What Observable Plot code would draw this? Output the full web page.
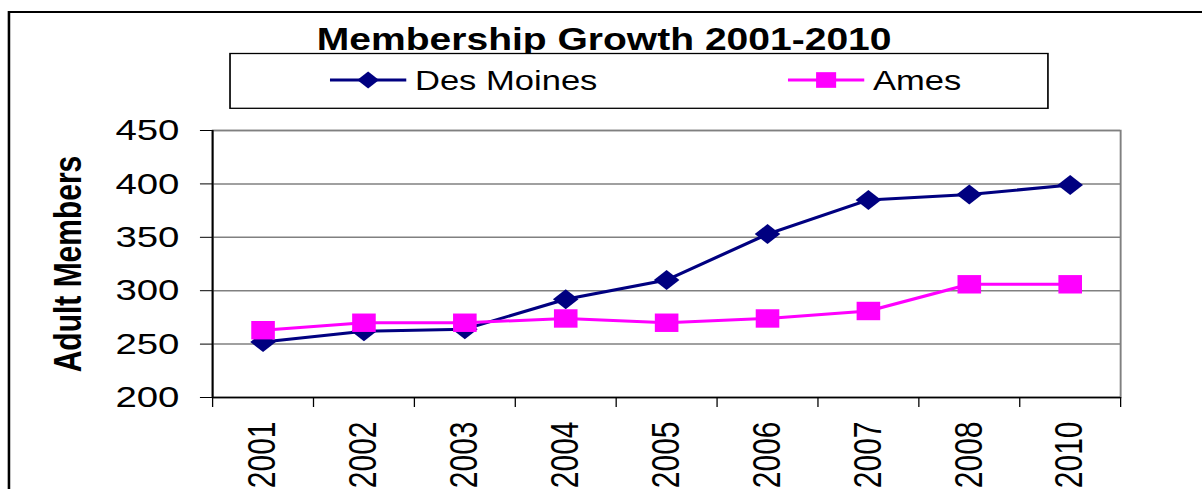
<!DOCTYPE html>
<html><head><meta charset="utf-8">
<script src="https://cdn.jsdelivr.net/npm/d3@7"></script>
<script src="https://cdn.jsdelivr.net/npm/@observablehq/plot@0.6"></script>
<style>
html,body{margin:0;padding:0;background:#fff;overflow:hidden;}
#stage{position:relative;width:939px;height:489px;transform:scaleX(1.28);transform-origin:0 0;font-family:"Liberation Sans",Arial,sans-serif;}
#frame{position:absolute;left:6.3px;top:10.5px;width:1000px;height:600px;border:2.5px solid #000;box-sizing:border-box;}
#header{position:absolute;left:0;top:0;overflow:visible;}
#chart{position:absolute;left:0;top:115px;}
</style></head><body>
<div id="stage"><div id="frame"></div><div id="chart"></div><svg id="header" width="939" height="115"></svg></div>
<script>
const title = "Membership Growth 2001-2010";
const yLabel = "Adult Members";
const years = ["2001","2002","2003","2004","2005","2006","2007","2008","2010"];
const seriesNames = ["Des Moines","Ames"];
const desMoines = [252,262,264,292,310,353,385,390,399];
const ames = [263,270,270,274,270,274,281,306,306];
const yTicks = [200,250,300,350,400,450];
const colors = ["#000080","#FF00FF"];
const symbols = ["diamond2","square"];
const markerR = [9, 10.4];

const seriesValues = [desMoines, ames];
const rows = seriesNames.map((s, k) => years.map((yr, i) => ({series: s, year: yr, pos: i + 0.5, value: seriesValues[k][i]})));
const bounds = d3.range(years.length + 1);
const font = '"Liberation Sans", Arial, sans-serif';

const chart = Plot.plot({
  width: 939, height: 405,
  marginTop: 15, marginBottom: 123, marginLeft: 165.6, marginRight: 64,
  style: {fontFamily: font, background: "transparent", overflow: "visible", color: "#000"},
  x: {type: "linear", domain: [0, years.length], axis: null},
  y: {type: "linear", domain: [yTicks[0], yTicks[yTicks.length - 1]], axis: null},
  marks: [
    Plot.gridY(yTicks, {stroke: "#808080", strokeOpacity: 1, strokeWidth: 1.5}),
    Plot.frame({stroke: "#808080", strokeWidth: 1.5}),
    Plot.ruleX([0], {stroke: "#000", strokeWidth: 1.5}),
    Plot.ruleY([yTicks[0]], {stroke: "#000", strokeWidth: 1.5}),
    Plot.axisY(yTicks, {tickSize: 9.4, tickPadding: 16.5, fontSize: 30, stroke: "#000", fill: "#000", label: null}),
    Plot.axisX(bounds, {tickSize: 10, tickFormat: () => "", stroke: "#000", label: null}),
    Plot.text(years, {x: (d, i) => i + 0.5, frameAnchor: "bottom", rotate: -90, textAnchor: "end", lineAnchor: "middle", dy: 24, fontSize: 30, fill: "#000"}),
    Plot.text([yLabel], {frameAnchor: "left", rotate: -90, textAnchor: "middle", lineAnchor: "middle", dx: -112.6, fontSize: 30, fontWeight: "bold", fill: "#000"}),
    ...seriesNames.flatMap((s, k) => [
      Plot.line(rows[k], {x: "pos", y: "value", stroke: colors[k], strokeWidth: 3}),
      Plot.dot(rows[k], {x: "pos", y: "value", symbol: symbols[k], fill: colors[k], stroke: "none", r: markerR[k]})
    ])
  ]
});
document.getElementById("chart").appendChild(chart);

// title and legend
const hdr = d3.select("#header").style("font-family", font);
hdr.append("text").attr("x", 472).attr("y", 50).attr("text-anchor", "middle")
  .attr("font-size", 30.5).attr("font-weight", "bold").attr("fill", "#000").text(title);
hdr.append("rect").attr("x", 179.7).attr("y", 53.5).attr("width", 639).attr("height", 54.8)
  .attr("fill", "#fff").attr("stroke", "#000").attr("stroke-width", 1.3);
const legendX = [257.8, 615.6];
const symTypes = [d3.symbolDiamond2, d3.symbolSquare];
seriesNames.forEach((s, k) => {
  const g = hdr.append("g").attr("transform", `translate(${legendX[k]},80)`);
  g.append("line").attr("x1", 0).attr("x2", 59.6).attr("y1", 0).attr("y2", 0)
    .attr("stroke", colors[k]).attr("stroke-width", 3);
  const rr = markerR[k] * 0.85;
  g.append("path").attr("transform", "translate(29.8,0)")
    .attr("d", d3.symbol(symTypes[k], Math.PI * rr * rr)()).attr("fill", colors[k]);
  g.append("text").attr("x", 66.4).attr("y", 9.8).attr("font-size", 27).attr("fill", "#000").text(s);
});
</script>
</body></html>
